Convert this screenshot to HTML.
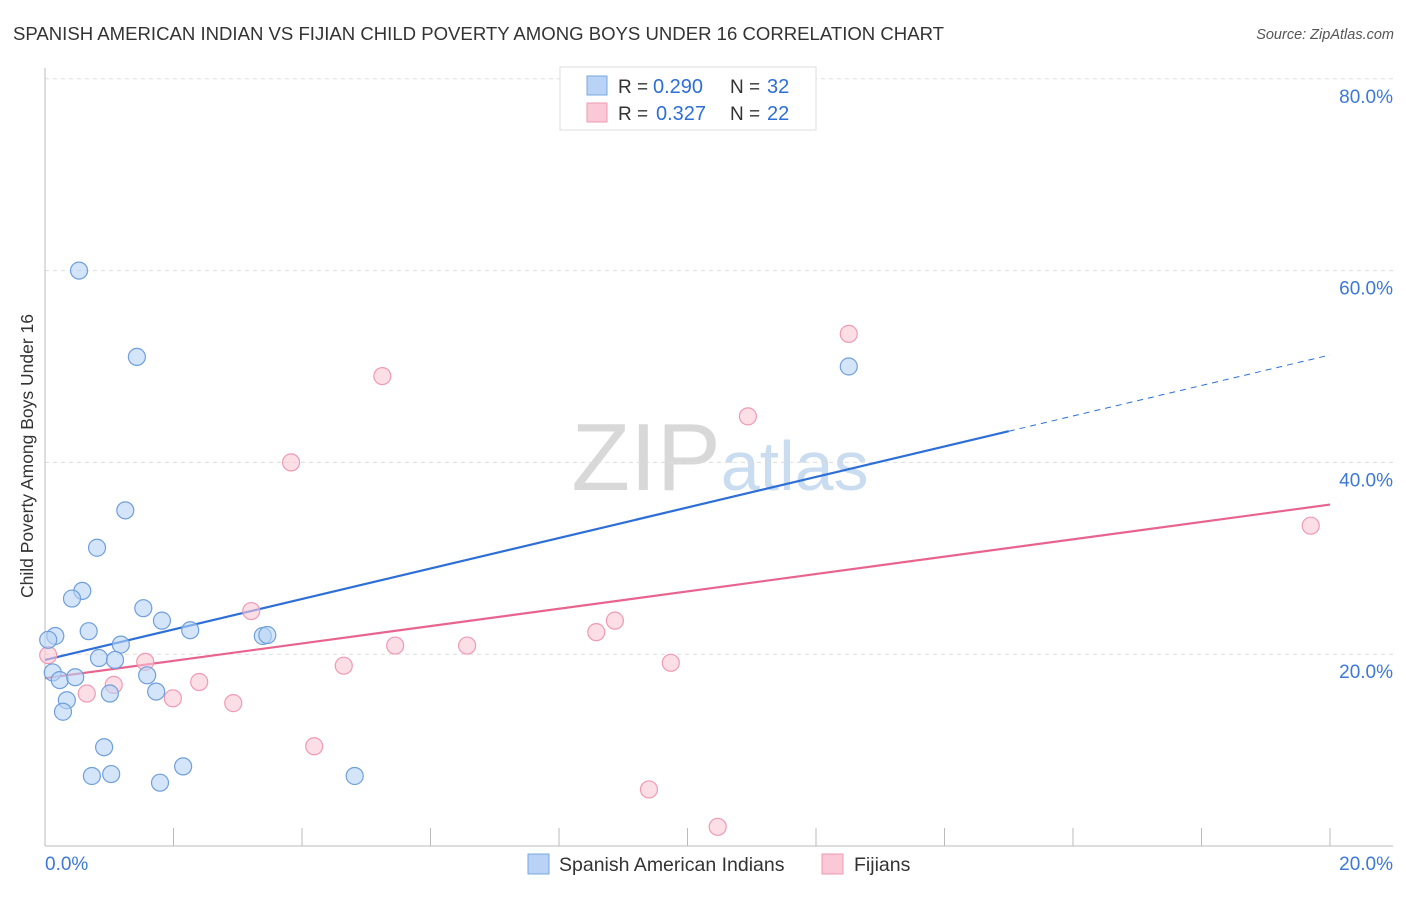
<!DOCTYPE html>
<html><head><meta charset="utf-8"><style>
body{margin:0;background:#fff;font-family:"Liberation Sans",sans-serif;}
svg text{font-family:"Liberation Sans",sans-serif;}
</style></head><body>
<svg id="chart" width="1406" height="892" xmlns="http://www.w3.org/2000/svg">
<text x="13" y="40" font-size="18.5" fill="#333" textLength="931" lengthAdjust="spacingAndGlyphs">SPANISH AMERICAN INDIAN VS FIJIAN CHILD POVERTY AMONG BOYS UNDER 16 CORRELATION CHART</text>
<text x="1394" y="39" font-size="14.5" fill="#555" text-anchor="end" font-style="italic">Source: ZipAtlas.com</text>
<text x="720" y="490" font-size="96" fill="#ddd" text-anchor="middle" font-family="Liberation Serif"><tspan fill="#d8d8d8">ZIP</tspan><tspan fill="#c9dcf0" font-family="Liberation Sans" font-size="70">atlas</tspan></text>
<g id="grid"></g><g id="axes"></g><g id="lines"></g><g id="points"></g>
<text transform="translate(33,456) rotate(-90)" font-size="17.5" fill="#333" text-anchor="middle">Child Poverty Among Boys Under 16</text>
<g>
<rect x="560" y="67" width="256" height="63" fill="#fff" stroke="#ddd"/>
<rect x="587" y="76" width="20" height="19" fill="#b8d3f5" stroke="#7aa7e0"/>
<rect x="587" y="103" width="20" height="19" fill="#fac8d6" stroke="#ef9ab3"/>
<text x="618" y="93" font-size="19" fill="#333">R =</text><text x="653" y="93" font-size="20" fill="#2d6fd6">0.290</text>
<text x="730" y="93" font-size="19" fill="#333">N =</text><text x="767" y="93" font-size="20" fill="#2d6fd6">32</text>
<text x="618" y="120" font-size="19" fill="#333">R =</text><text x="656" y="120" font-size="20" fill="#2d6fd6">0.327</text>
<text x="730" y="120" font-size="19" fill="#333">N =</text><text x="767" y="120" font-size="20" fill="#2d6fd6">22</text>
</g>
<g>
<rect x="528" y="854" width="21" height="20" fill="#b8d3f5" stroke="#7aa7e0"/>
<text x="559" y="871" font-size="19.5" fill="#333">Spanish American Indians</text>
<rect x="822" y="854" width="21" height="20" fill="#fac8d6" stroke="#ef9ab3"/>
<text x="854" y="871" font-size="19.5" fill="#333">Fijians</text>
</g>
</svg>
<script>
const blueX=[0.53,1.43,1.25,0.81,0.58,0.42,1.53,1.82,0.68,2.26,0.16,1.18,3.39,3.46,0.05,0.84,1.09,0.12,0.23,0.47,1.59,1.01,1.73,0.34,0.28,0.92,0.73,1.03,1.79,2.15,4.82,12.51];
const blueY=[60.0,51.0,35.0,31.1,26.6,25.8,24.8,23.5,22.4,22.5,21.9,21.0,21.9,22.0,21.5,19.6,19.4,18.1,17.3,17.6,17.8,15.9,16.1,15.2,14.0,10.3,7.3,7.5,6.6,8.3,7.3,50.0];
const pinkX=[0.05,0.65,1.07,1.56,1.99,2.40,2.93,3.21,3.83,4.19,4.65,5.25,5.45,6.57,8.58,8.87,9.74,9.40,10.47,10.94,12.51,19.70];
const pinkY=[19.9,15.9,16.8,19.2,15.4,17.1,14.9,24.5,40.0,10.4,18.8,49.0,20.9,20.9,22.3,23.5,19.1,5.9,2.0,44.8,53.4,33.4];
const yTicks=[20,40,60,80];
const yTickLabels=["20.0%","40.0%","60.0%","80.0%"];
const xTicks=[0,2,4,6,8,10,12,14,16,18,20];
const blueLine=[19.4,1.59,15.0];
const pinkLine=[17.5,0.905];
const NS="http://www.w3.org/2000/svg";
const sx=v=>45+v*64.25, sy=v=>846-v*9.59;
function mk(tag,attrs,parent){const e=document.createElementNS(NS,tag);for(const k in attrs)e.setAttribute(k,attrs[k]);document.getElementById(parent).appendChild(e);return e;}
yTicks.forEach((t,i)=>{
 const g=mk('line',{x1:45,x2:1393,y1:sy(t),y2:sy(t),stroke:'#ddd','stroke-dasharray':'4,4'},'grid');
 
 
 const tx=mk('text',{x:1393,y:sy(t)+24,'font-size':19,fill:'#3c78d8','text-anchor':'end'},'grid');
 tx.textContent=yTickLabels[i];
 
 
});
const ax=mk('line',{x1:45,x2:1393,y1:846,y2:846,stroke:'#bbb'},'axes');


const ay=mk('line',{x1:45,x2:45,y1:68,y2:846,stroke:'#bbb'},'axes');


xTicks.forEach(t=>{const l=mk('line',{x1:sx(t),x2:sx(t),y1:828,y2:846,stroke:'#bbb'},'axes');
 
 });
[[0,'0.0%','start',45],[20,'20.0%','end',1393]].forEach(a=>{const t=mk('text',{x:a[3],y:870,'font-size':19,fill:'#3c78d8','text-anchor':a[2]},'axes');t.textContent=a[1];
 
 });
function dots(X,Y,fill,stroke,name){X.forEach((x,i)=>{const c=mk('circle',{cx:sx(x),cy:sy(Y[i]),r:8.5,fill:fill,stroke:stroke,'stroke-width':1.2,'fill-opacity':0.6},'points');
 
 });}
dots(pinkX,pinkY,'#fac8d6','#ef9ab3','fijian-point');
dots(blueX,blueY,'#b8d3f5','#6f9fdc','spanish-american-indian-point');
const bl=mk('line',{x1:sx(0),y1:sy(blueLine[0]),x2:sx(blueLine[2]),y2:sy(blueLine[0]+blueLine[1]*blueLine[2]),stroke:'#2d6fd6','stroke-width':2.2},'lines');


const bd=mk('line',{x1:sx(blueLine[2]),y1:sy(blueLine[0]+blueLine[1]*blueLine[2]),x2:sx(20),y2:sy(blueLine[0]+blueLine[1]*20),stroke:'#2d6fd6','stroke-width':1,'stroke-dasharray':'6,5'},'lines');


const pl=mk('line',{x1:sx(0),y1:sy(pinkLine[0]),x2:sx(20),y2:sy(pinkLine[0]+pinkLine[1]*20),stroke:'#e8648f','stroke-width':2.2},'lines');


</script>
</body></html>
